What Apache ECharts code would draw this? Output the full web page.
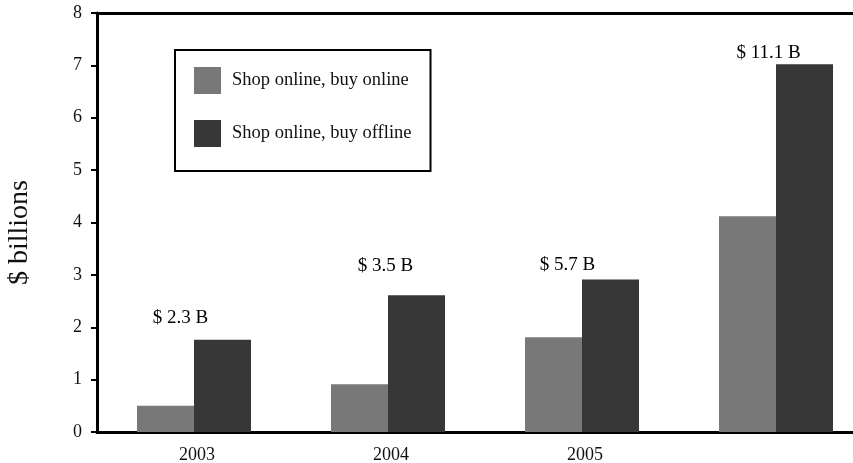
<!DOCTYPE html>
<html>
<head>
<meta charset="utf-8">
<script src="https://cdn.jsdelivr.net/npm/echarts@6/dist/echarts.min.js"></script>
<style>
  html, body { margin: 0; padding: 0; background: #fff; overflow: hidden; }
  #main { width: 853px; height: 463px; }
</style>
</head>
<body>
<div id="main"></div>
<script>
// 数据
var years = ['2003', '2004', '2005', ''];
var buyOnline = [0.5, 0.91, 1.81, 4.12];
var buyOffline = [1.76, 2.61, 2.91, 7.02];
var totals = ['$ 2.3 B', '$ 3.5 B', '$ 5.7 B', '$ 11.1 B'];
var yTicks = [0, 1, 2, 3, 4, 5, 6, 7, 8];

var serif = '"Liberation Serif", "DejaVu Serif", serif';

// 每个总额标签相对深色柱的偏移
var labelShift = [[-42, -7], [-31, -15], [-43, 0], [-36, 3]];

var chart = echarts.init(document.getElementById('main'));
var option = {
  backgroundColor: '#fff',
  animation: false,
  // 右侧被裁掉了，所以宽度超出画布
  grid: { left: 97, width: 776, top: 13, bottom: 31, outerBoundsMode: 'none' },
  legend: {
    orient: 'vertical',
    left: 175,
    top: 50,
    padding: [17, 19, 24, 19],
    itemWidth: 27,
    itemHeight: 27,
    itemGap: 26,
    borderColor: '#000',
    borderWidth: 2,
    icon: 'rect',
    textStyle: { fontFamily: serif, fontSize: 18.5, color: '#111', padding: [10, 0, 0, 6] },
    data: ['Shop online, buy online', 'Shop online, buy offline']
  },
  xAxis: [{
    type: 'category',
    data: years,
    axisLine: { lineStyle: { color: '#000', width: 3 } },
    axisTick: { show: false },
    axisLabel: { fontFamily: serif, fontSize: 18, color: '#111', margin: 14, padding: [0, 0, 0, 6] }
  }, {
    type: 'category',
    position: 'top',
    data: years,
    axisLine: { lineStyle: { color: '#000', width: 3 } },
    axisTick: { show: false },
    axisLabel: { show: false }
  }],
  yAxis: {
    type: 'value',
    min: yTicks[0],
    max: yTicks[yTicks.length - 1],
    interval: 1,
    name: '$ billions',
    nameLocation: 'middle',
    nameGap: 63,
    nameTextStyle: { fontFamily: serif, fontSize: 28, color: '#111', padding: [0, 20, 0, 0] },
    splitLine: { show: false },
    axisLine: { show: true, lineStyle: { color: '#000', width: 3 } },
    axisTick: { show: true, length: 6, lineStyle: { color: '#000', width: 2 } },
    axisLabel: { fontFamily: serif, fontSize: 18, color: '#111', margin: 15 }
  },
  series: [{
    name: 'Shop online, buy online',
    type: 'bar',
    barWidth: 57,
    barGap: '0%',
    itemStyle: { color: '#787878' },
    data: buyOnline
  }, {
    name: 'Shop online, buy offline',
    type: 'bar',
    barWidth: 57,
    barGap: '0%',
    itemStyle: { color: '#373737' },
    label: {
      show: true,
      position: 'top',
      fontFamily: serif,
      fontSize: 19,
      color: '#000',
      formatter: function (p) { return totals[p.dataIndex]; }
    },
    data: buyOffline.map(function (v, i) {
      return { value: v, label: { offset: labelShift[i] } };
    })
  }]
};
chart.setOption(option);
window.onresize = function () { chart.resize(); };
</script>
</body>
</html>
